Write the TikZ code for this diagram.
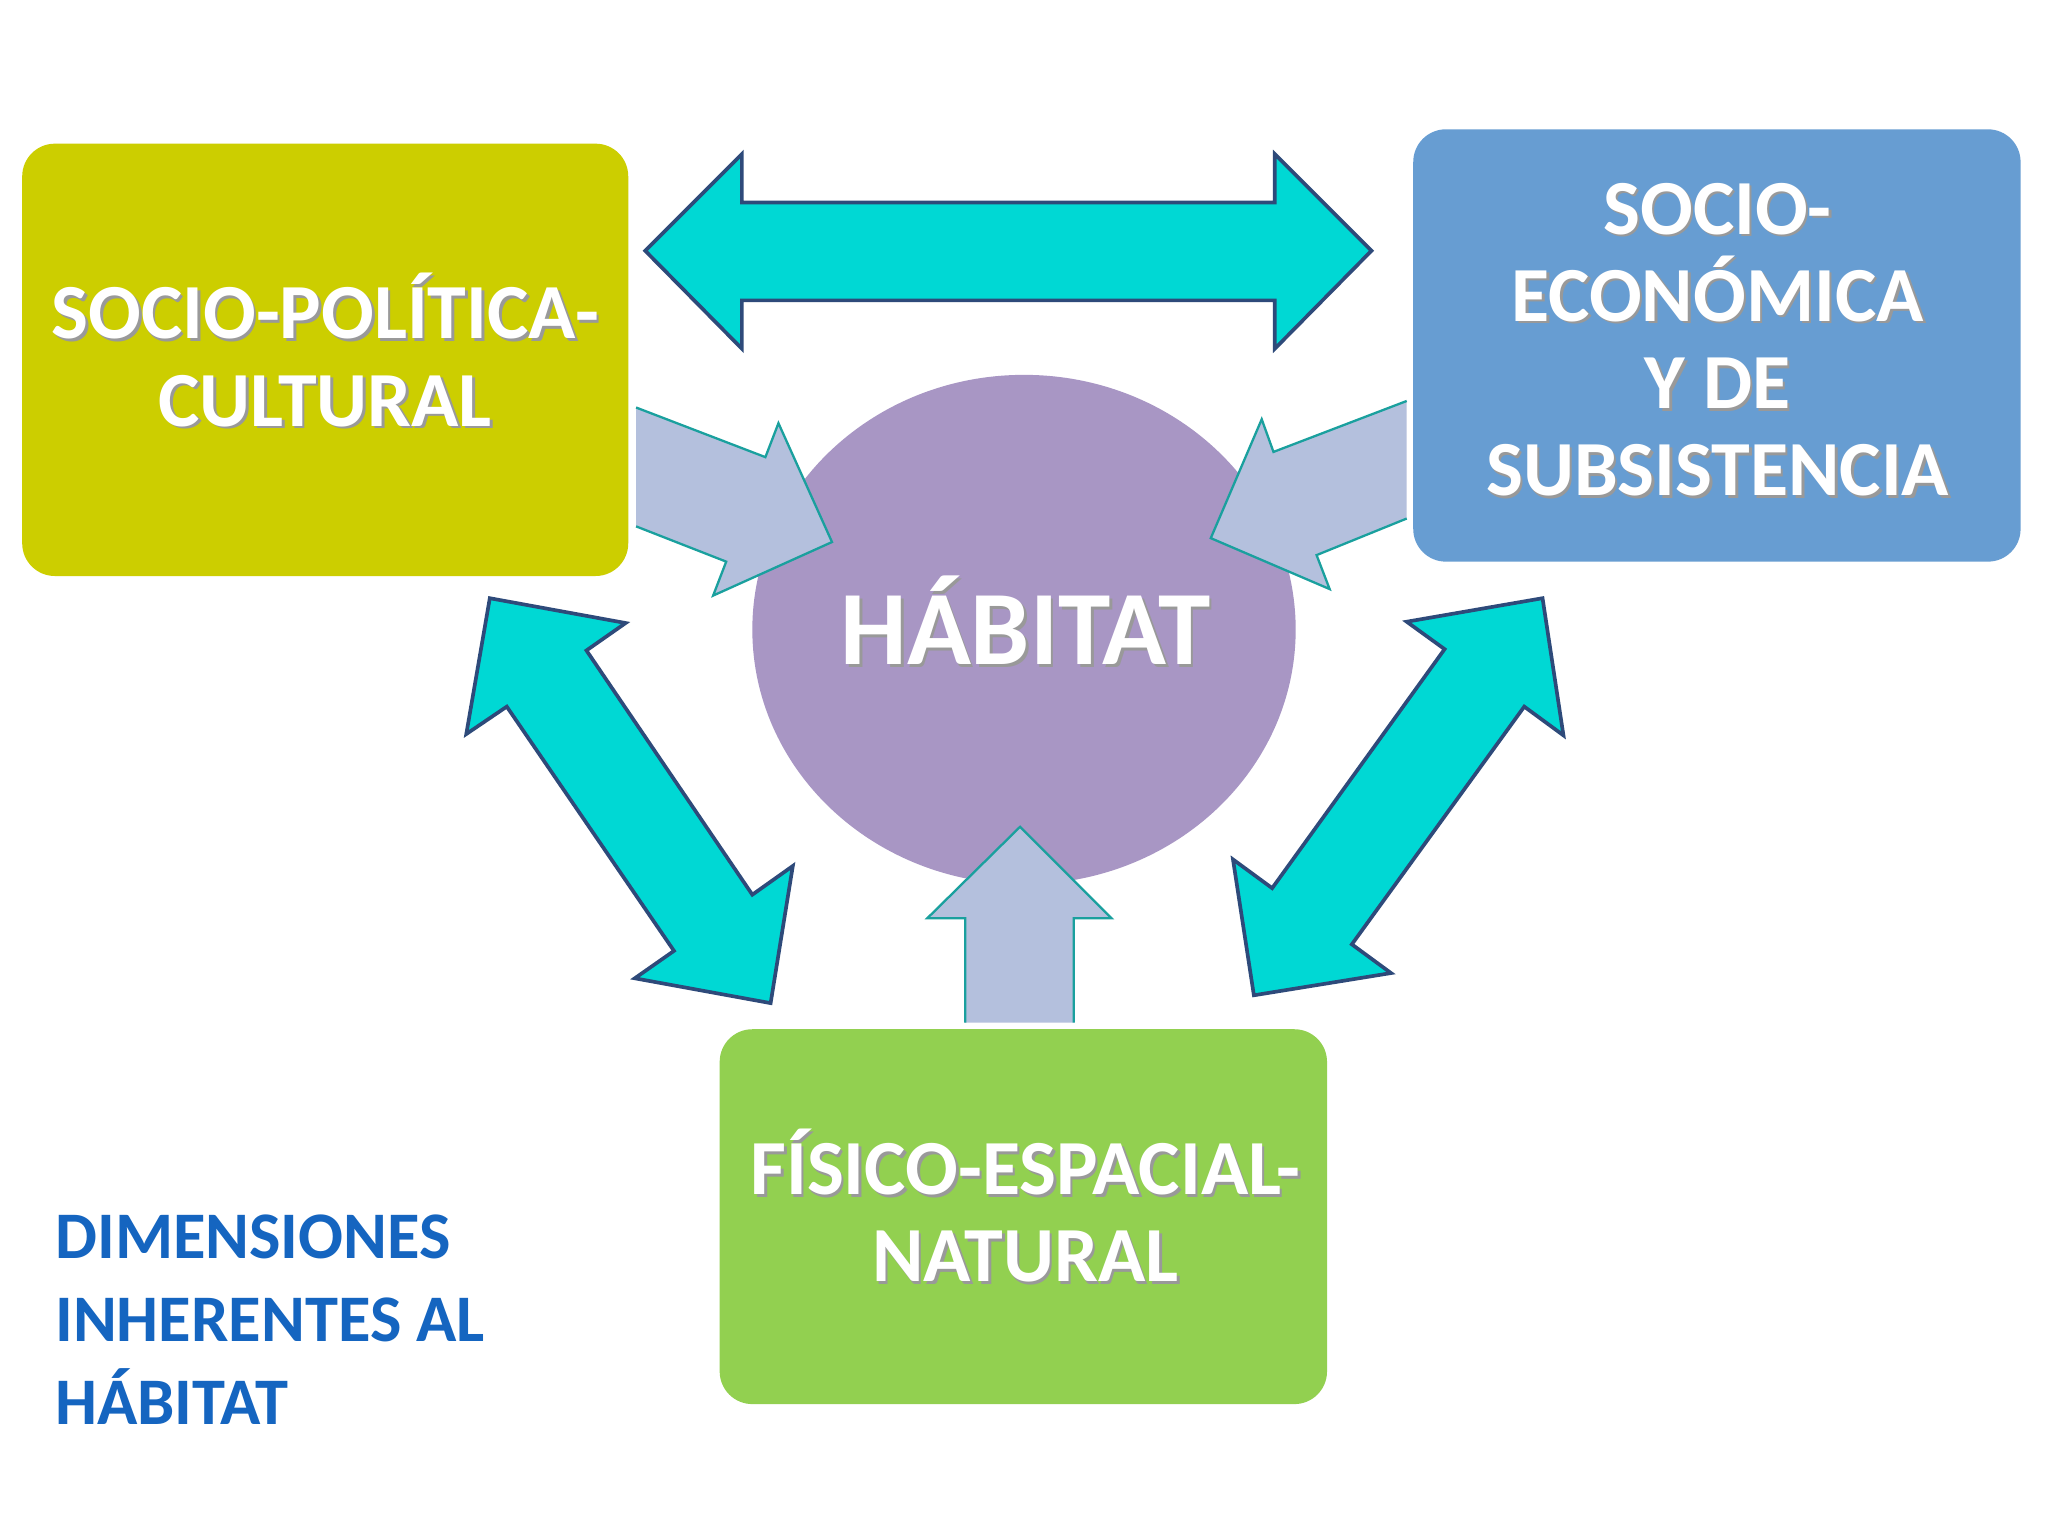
\documentclass[tikz,border=0pt]{standalone}
\usepackage{fontspec}
\setmainfont{Carlito}
\definecolor{olive}{RGB}{204,206,0}
\definecolor{sky}{RGB}{103,157,210}
\definecolor{grn}{RGB}{146,208,80}
\definecolor{lilac}{RGB}{168,150,196}
\definecolor{cyanA}{RGB}{0,216,212}
\definecolor{navy}{RGB}{46,74,122}
\definecolor{paleb}{RGB}{180,192,221}
\definecolor{teal}{RGB}{26,160,158}
\definecolor{captb}{RGB}{21,101,192}
\tikzset{
 boxst/.style={rounded corners=0.5cm,draw=none},
 bigarrow/.style={fill=cyanA,draw=navy,line width=1.6pt,line join=miter},
 smallarrow/.style={fill=paleb,draw=teal,line width=1pt},
 lbl/.style={text=white,font=\bfseries\fontsize{34}{38}\selectfont,align=center},
 shad/.style={text=black!40,font=\bfseries\fontsize{34}{38}\selectfont,align=center},
}
\begin{document}
\begin{tikzpicture}[x=0.02cm,y=-0.02cm]
\useasboundingbox[fill=white] (0,0) rectangle (1568,1176);
\fill[boxst,fill=olive] (17,110) rectangle (481,441);
\fill[boxst,fill=sky] (1082,99) rectangle (1547,430);
\fill[boxst,fill=grn] (551,788) rectangle (1016,1075);
\fill[lilac] (784,482) ellipse [x radius=208, y radius=195];
\draw[bigarrow] (494,192)--(568,118)--(568,155)--(976,155)--(976,118)--(1050,192)--(976,267)--(976,230)--(568,230)--(568,267)--cycle;
\draw[bigarrow] (375,458)--(479,477)--(449,498)--(576,685)--(607,663)--(590,768)--(486,749)--(516,728)--(388,541)--(357,562)--cycle;
\draw[bigarrow] (1181,458)--(1197,563)--(1167,541)--(1035,723)--(1065,745)--(960,762)--(944,658)--(974,680)--(1106,497)--(1077,476)--cycle;
\draw[smallarrow] (487,312)--(586,350)--(596,324)--(637,415)--(546,456)--(556,430)--(487,403);
\draw[smallarrow] (1077,307)--(975,346)--(966,321)--(927,412)--(1018,451)--(1008,425)--(1077,397);
\draw[smallarrow] (739,783)--(739,703)--(710,703)--(781,633)--(851,703)--(822,703)--(822,783);
\node[shad] at (251,270) {SOCIO-POLÍTICA-\\CULTURAL};
\node[lbl] (sp) at (249,268) {SOCIO-POLÍTICA-\\CULTURAL};
\node[shad] at (1317,262) {SOCIO-\\ECONÓMICA\\Y DE\\SUBSISTENCIA};
\node[lbl] (se) at (1315,260) {SOCIO-\\ECONÓMICA\\Y DE\\SUBSISTENCIA};
\node[shad] at (787,925) {FÍSICO-ESPACIAL-\\NATURAL};
\node[lbl] (fe) at (785,923) {FÍSICO-ESPACIAL-\\NATURAL};
\node[shad,font=\bfseries\fontsize{46}{50}\selectfont] at (787,477) {HÁBITAT};
\node[lbl,font=\bfseries\fontsize{46}{50}\selectfont] (hab) at (785,475) {HÁBITAT};
\node[anchor=north west,text=captb,font=\bfseries\fontsize{29}{36}\selectfont,align=left,inner sep=0pt] (cap) at (42,930) {DIMENSIONES\\INHERENTES AL\\HÁBITAT};
\end{tikzpicture}
\end{document}
